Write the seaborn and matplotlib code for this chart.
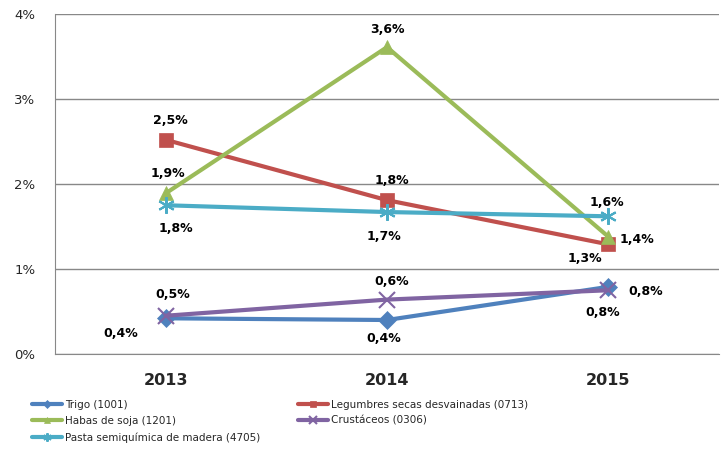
import pandas as pd
import seaborn as sns
import matplotlib.pyplot as plt

# datos (% de participación)
anios = ["2013", "2014", "2015"]
series = ["Trigo (1001)", "Legumbres secas desvainadas (0713)", "Habas de soja (1201)",
          "Crustáceos (0306)", "Pasta semiquímica de madera (4705)"]
trigo = [0.42, 0.40, 0.79]
legumbres = [2.52, 1.81, 1.29]
habas = [1.89, 3.61, 1.38]
crustaceos = [0.45, 0.64, 0.75]
pasta = [1.75, 1.67, 1.62]
etiquetas = {
    "Trigo (1001)": ["0,4%", "0,4%", "0,8%"],
    "Legumbres secas desvainadas (0713)": ["2,5%", "1,8%", "1,3%"],
    "Habas de soja (1201)": ["1,9%", "3,6%", "1,4%"],
    "Crustáceos (0306)": ["0,5%", "0,6%", "0,8%"],
    "Pasta semiquímica de madera (4705)": ["1,8%", "1,7%", "1,6%"],
}

valores = [trigo, legumbres, habas, crustaceos, pasta]
df = pd.DataFrame([
    {"anio": i, "serie": s, "valor": v}
    for s, vals in zip(series, valores)
    for i, v in enumerate(vals)
])

colores = ["#4F81BD", "#C0504D", "#9BBB59", "#8064A2", "#4BACC6"]
marcadores = ["D", "s", "^", "x", (6, 2, 0)]
tamanos = [9, 10, 10, 11, 12]
# desplazamiento de etiquetas en pixeles
offsets = {
    "Trigo (1001)": [(-45, -15), (-3, -19), (37, -5)],
    "Legumbres secas desvainadas (0713)": [(5, 19), (5, 20), (-23, -14)],
    "Habas de soja (1201)": [(2, 20), (0, 18), (29, -3)],
    "Crustáceos (0306)": [(7, 21), (5, 18), (-6, -22)],
    "Pasta semiquímica de madera (4705)": [(10, -23), (-3, -24), (-1, 14)],
}

sns.set_style("white")
plt.rcParams["font.family"] = ["DejaVu Sans"]

fig = plt.figure(figsize=(7.25, 4.5), dpi=100)
ax = fig.add_axes([55 / 725, 1 - 354 / 450, 664 / 725, 340 / 450])

for s, c, m, ms in zip(series, colores, marcadores, tamanos):
    d = df[df["serie"] == s]
    sns.lineplot(data=d, x="anio", y="valor", color=c, marker=m, markersize=ms,
                 markeredgecolor=c, markeredgewidth=1.5 if m in ("x", (6, 2, 0)) else 0.5,
                 linewidth=3, ax=ax, label=s)
    for i, (v, t) in enumerate(zip(d["valor"], etiquetas[s])):
        ax.annotate(t, (i, v), xytext=offsets[s][i], textcoords="offset pixels",
                    ha="center", va="center", fontsize=9, fontweight="bold", color="black")

ax.set_xlim(-0.5, 2.5)
ax.set_ylim(0, 4)
ax.set_xticks(range(3))
ax.set_xticklabels(anios, fontsize=11.5, fontweight="bold")
ax.set_yticks([0, 1, 2, 3, 4])
ax.set_yticklabels([f"{i}%" for i in range(5)], fontsize=9.5)
ax.tick_params(axis="x", length=0, pad=14)
ax.tick_params(axis="y", length=0, pad=14)
ax.grid(axis="y", color="#888888", linewidth=1)
for sp in ["top", "right"]:
    ax.spines[sp].set_visible(False)
for sp in ["left", "bottom"]:
    ax.spines[sp].set_color("#888888")
ax.set_xlabel("")
ax.set_ylabel("")

h, l = ax.get_legend_handles_labels()
ax.get_legend().remove()
orden = [0, 2, 4, 1, 3]
fig.legend([h[i] for i in orden], [l[i] for i in orden], ncol=2,
           loc="upper left", bbox_to_anchor=(0.044, 0.112), frameon=False,
           fontsize=7.5, handlelength=2.9, handletextpad=0.3, columnspacing=3.6,
           labelspacing=0.6, borderaxespad=0, borderpad=0, markerscale=0.5)

fig.savefig("out.png", dpi=100)
